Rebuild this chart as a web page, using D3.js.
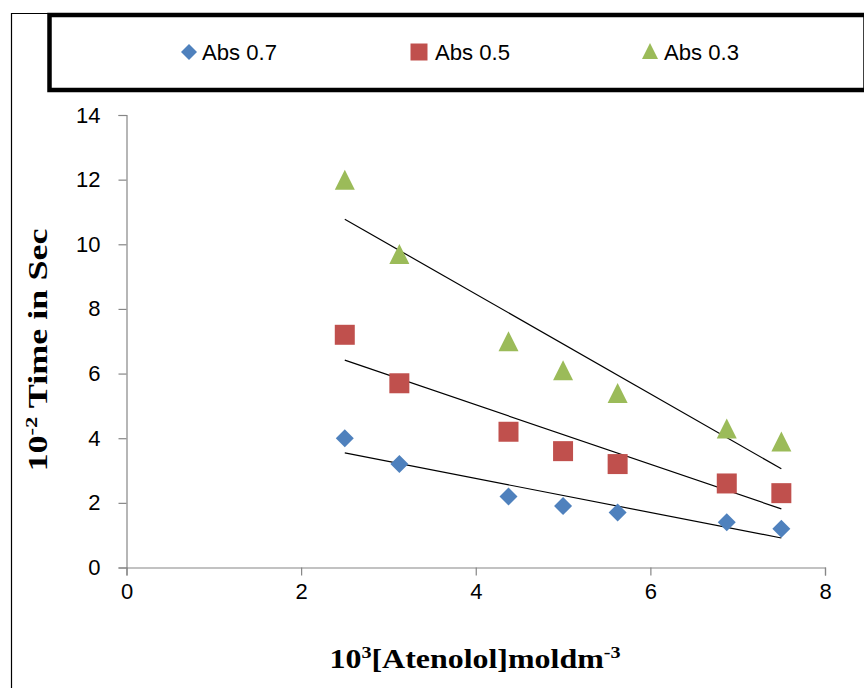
<!DOCTYPE html>
<html>
<head>
<meta charset="utf-8">
<script src="https://cdn.jsdelivr.net/npm/d3@7"></script>
<style>
  body { margin: 0; background: #fff; }
  svg { display: block; }
</style>
</head>
<body>
<svg></svg>
<script>
// concentration values (10^3 [Atenolol])
let conc = [2.5, 3.125, 4.375, 5.0, 5.625, 6.875, 7.5];

// 10^-2 time in sec for each absorbance
let abs07 = [4.0, 3.2, 2.2, 1.9, 1.7, 1.4, 1.2];
let abs05 = [7.2, 5.7, 4.2, 3.6, 3.2, 2.6, 2.3];
let abs03 = [12.0, 9.7, 7.0, 6.1, 5.4, 4.3, 3.9];

let seriesNames = ['Abs 0.7', 'Abs 0.5', 'Abs 0.3'];
let xTicks = [0, 2, 4, 6, 8];
let yTicks = [0, 2, 4, 6, 8, 10, 12, 14];

let svgWidth = 864,
    svgHeight = 688;

let svg = d3.select('svg')
            .attr('width', svgWidth)
            .attr('height', svgHeight);

let x = d3.scaleLinear().domain([0, 8]).range([126.5, 825]);
let y = d3.scaleLinear().domain([0, 14]).range([567.5, 115]);

let series = [
  { name: seriesNames[0], values: abs07, color: '#4F81BD', shape: 'diamond' },
  { name: seriesNames[1], values: abs05, color: '#C0504D', shape: 'square' },
  { name: seriesNames[2], values: abs03, color: '#9BBB59', shape: 'triangle' }
];

// marker path, s = full width of the marker
function marker(shape, s) {
  let h = s / 2;
  if (shape === 'diamond') return `M0,${-h}L${h},0L0,${h}L${-h},0Z`;
  if (shape === 'square') return `M${-h},${-h}H${h}V${h}H${-h}Z`;
  return `M0,${-h}L${h},${h}L${-h},${h}Z`;
}

// outer frame (thin line on the left and top)
svg.append('path')
   .attr('d', 'M11.5,688V13.5H50')
   .attr('fill', 'none')
   .attr('stroke', '#000')
   .attr('stroke-width', 1.2);

// legend box
svg.append('rect')
   .attr('x', 49.5)
   .attr('y', 15)
   .attr('width', 816)
   .attr('height', 75)
   .attr('fill', '#fff')
   .attr('stroke', '#000')
   .attr('stroke-width', 4.5);

let legendPos = [
  { mx: 189, tx: 202 },
  { mx: 419, tx: 435 },
  { mx: 650, tx: 664 }
];

let legend = svg.append('g');
series.forEach((s, i) => {
  legend.append('path')
        .attr('d', marker(s.shape, s.shape === 'square' ? 17 : 16))
        .attr('transform', `translate(${legendPos[i].mx},${s.shape === 'triangle' ? 51 : 52})`)
        .attr('fill', s.color);
  legend.append('text')
        .attr('x', legendPos[i].tx)
        .attr('y', 60)
        .attr('font-family', 'Liberation Sans, Arial, sans-serif')
        .attr('font-size', 22)
        .attr('textLength', 75)
        .attr('lengthAdjust', 'spacingAndGlyphs')
        .attr('fill', '#000')
        .text(s.name);
});

// axes
let axisColor = '#868686';

let xAxis = svg.append('g')
   .attr('transform', `translate(0,${y(0)})`)
   .call(d3.axisBottom(x).tickValues(xTicks).tickSize(8).tickPadding(8).tickFormat(d3.format('d')));

let yAxis = svg.append('g')
   .attr('transform', `translate(${x(0)},0)`)
   .call(d3.axisLeft(y).tickValues(yTicks).tickSize(8).tickPadding(18).tickFormat(d3.format('d')));

[xAxis, yAxis].forEach(a => {
  a.select('.domain').attr('stroke', axisColor).attr('stroke-width', 1.2);
  a.selectAll('.tick line').attr('stroke', axisColor).attr('stroke-width', 1.2);
  a.selectAll('.tick text')
   .attr('fill', '#000')
   .attr('font-family', 'Liberation Sans, Arial, sans-serif')
   .attr('font-size', 22);
});

// trend lines (least squares fit for each series)
series.forEach(s => {
  let mx = d3.mean(conc), my = d3.mean(s.values);
  let sxy = d3.sum(conc, (c, i) => (c - mx) * (s.values[i] - my));
  let sxx = d3.sum(conc, c => (c - mx) * (c - mx));
  let slope = sxy / sxx, icpt = my - slope * mx;
  let x0 = d3.min(conc), x1 = d3.max(conc);
  svg.append('line')
     .attr('x1', x(x0))
     .attr('y1', y(icpt + slope * x0))
     .attr('x2', x(x1))
     .attr('y2', y(icpt + slope * x1))
     .attr('stroke', '#000')
     .attr('stroke-width', 1.2);
});

// data markers
series.forEach(s => {
  svg.append('g')
     .selectAll('path')
     .data(s.values)
     .join('path')
     .attr('d', marker(s.shape, s.shape === 'diamond' ? 18 : 20))
     .attr('transform', (d, i) => `translate(${x(conc[i])},${y(d)})`)
     .attr('fill', s.color);
});

// axis titles
let xTitle = svg.append('text')
   .attr('x', 475)
   .attr('y', 668)
   .attr('text-anchor', 'middle')
   .attr('font-family', 'Liberation Serif, Times New Roman, serif')
   .attr('font-weight', 'bold')
   .attr('font-size', 27)
   .attr('textLength', 291)
   .attr('lengthAdjust', 'spacingAndGlyphs');
xTitle.append('tspan').text('10');
xTitle.append('tspan').attr('dy', -10).attr('font-size', 17).text('3');
xTitle.append('tspan').attr('dy', 10).text('[Atenolol]moldm');
xTitle.append('tspan').attr('dy', -10).attr('font-size', 17).text('-3');

let yTitle = svg.append('text')
   .attr('transform', 'translate(47,350) rotate(-90)')
   .attr('text-anchor', 'middle')
   .attr('font-family', 'Liberation Serif, Times New Roman, serif')
   .attr('font-weight', 'bold')
   .attr('font-size', 27)
   .attr('textLength', 243)
   .attr('lengthAdjust', 'spacingAndGlyphs');
yTitle.append('tspan').text('10');
yTitle.append('tspan').attr('dy', -10).attr('font-size', 17).text('-2');
yTitle.append('tspan').attr('dy', 10).text(' Time in Sec');
</script>
</body>
</html>
